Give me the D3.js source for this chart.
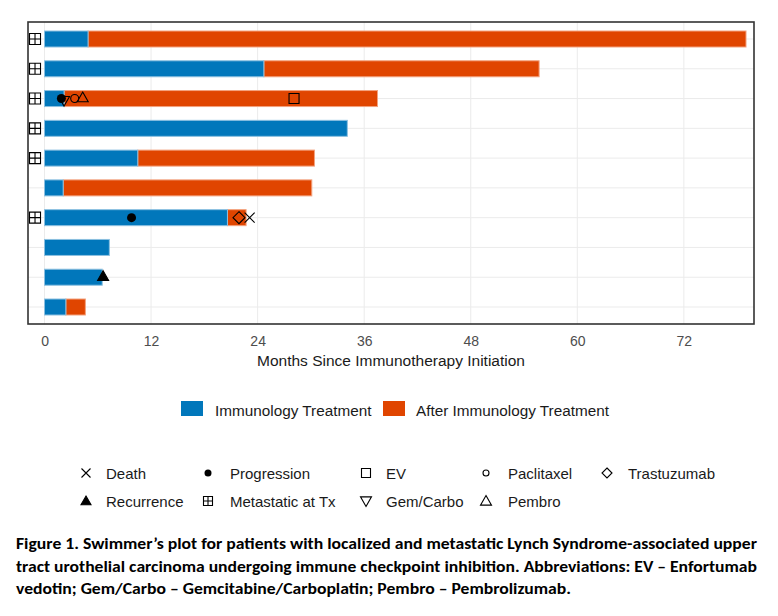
<!DOCTYPE html>
<html><head><meta charset="utf-8">
<script src="https://cdn.jsdelivr.net/npm/d3@7"></script>
<style>
html,body{margin:0;padding:0;background:#fff;}
svg{display:block;font-family:"Liberation Sans",Arial,sans-serif;}
</style></head>
<body>
<svg id="chart" width="778" height="616"></svg>
<script>
// ---- data ----
const patients = ["1","2","3","4","5","6","7","8","9","10"];
const immunoEnd = [4.9, 24.7, 2.2, 34.1, 10.5, 2.1, 20.6, 7.3, 6.5, 2.4];
const afterEnd  = [79.0, 55.7, 37.5, null, 30.4, 30.1, 22.7, null, null, 4.6];
const metastatic = ["1","2","3","4","5","7"];
const eventPatient = ["3","3","3","3","3","7","7","7","9"];
const eventTime    = [1.9, 2.2, 3.4, 4.3, 28.1, 9.8, 21.9, 23.1, 6.6];
const eventType    = ["Progression","Gem/Carbo","Paclitaxel","Pembro","EV","Progression","Trastuzumab","Death","Recurrence"];
const xTicks = [0, 12, 24, 36, 48, 60, 72];
const barLegend = ["Immunology Treatment", "After Immunology Treatment"];
const shapeLegendRow1 = ["Death","Progression","EV","Paclitaxel","Trastuzumab"];
const shapeLegendRow2 = ["Recurrence","Metastatic at Tx","Gem/Carbo","Pembro"];
const captionLines = [
  "Figure 1. Swimmer\u2019s plot for patients with localized and metastatic Lynch Syndrome-associated upper",
  "tract urothelial carcinoma undergoing immune checkpoint inhibition. Abbreviations: EV \u2013 Enfortumab",
  "vedotin; Gem/Carbo \u2013 Gemcitabine/Carboplatin; Pembro \u2013 Pembrolizumab."
];

// ---- layout ----
const BLUE = "#0177BB", ORANGE = "#E04500";
const panel = {l: 28, r: 754, t: 22, b: 324};
const svg = d3.select("#chart");

const x = d3.scaleLinear().domain([-1.86, 79.9]).range([panel.l, panel.r]);
const y = d3.scalePoint().domain(patients).range([39, 307]);
const barH = 16;

// grid
const g = svg.append("g");
g.selectAll("line.vg").data(xTicks).join("line")
  .attr("x1", d => x(d)).attr("x2", d => x(d))
  .attr("y1", panel.t).attr("y2", panel.b)
  .attr("stroke", "#ebebeb").attr("stroke-width", 1);
g.selectAll("line.hg").data(patients).join("line")
  .attr("x1", panel.l).attr("x2", panel.r)
  .attr("y1", d => y(d)).attr("y2", d => y(d))
  .attr("stroke", "#ebebeb").attr("stroke-width", 1);

// bars
const rows = patients.map((p, i) => ({p, a: immunoEnd[i], b: afterEnd[i]}));
g.selectAll("rect.after").data(rows.filter(d => d.b != null)).join("rect")
  .attr("x", d => x(d.a)).attr("width", d => x(d.b) - x(d.a))
  .attr("y", d => y(d.p) - barH/2).attr("height", barH)
  .attr("fill", ORANGE).attr("stroke", "#f3a27e").attr("stroke-width", 1);
g.selectAll("rect.imm").data(rows).join("rect")
  .attr("x", x(0)).attr("width", d => x(d.a) - x(0))
  .attr("y", d => y(d.p) - barH/2).attr("height", barH)
  .attr("fill", BLUE).attr("stroke", "#8cc0e0").attr("stroke-width", 1);

// shapes
function shapePath(type, s) {
  const h = s/2;
  switch (type) {
    case "Death": return `M${-h},${-h}L${h},${h}M${-h},${h}L${h},${-h}`;
    case "EV": return `M${-h},${-h}H${h}V${h}H${-h}Z`;
    case "Trastuzumab": return `M0,${-h}L${h},0L0,${h}L${-h},0Z`;
    case "Recurrence": return `M0,${-h}L${h},${h*0.75}L${-h},${h*0.75}Z`;
    case "Pembro": return `M0,${-h}L${h},${h*0.75}L${-h},${h*0.75}Z`;
    case "Gem/Carbo": return `M0,${h}L${h},${-h*0.75}L${-h},${-h*0.75}Z`;
    case "Metastatic at Tx": return `M${-h},${-h}H${h}V${h}H${-h}ZM0,${-h}V${h}M${-h},0H${h}`;
    default: return null;
  }
}
function drawShape(sel, type, cx, cy, s) {
  if (type === "Progression") {
    sel.append("circle").attr("cx", cx).attr("cy", cy).attr("r", s/2).attr("fill", "#000");
  } else if (type === "Paclitaxel") {
    sel.append("circle").attr("cx", cx).attr("cy", cy).attr("r", s/2)
      .attr("fill", "none").attr("stroke", "#000").attr("stroke-width", 1.1);
  } else {
    const filled = type === "Recurrence";
    sel.append("path").attr("d", shapePath(type, s))
      .attr("transform", `translate(${cx},${cy})`)
      .attr("fill", filled ? "#000" : "none")
      .attr("stroke", "#000").attr("stroke-width", 1.1);
  }
}
const markerSize = {"Death":10, "Progression":9, "EV":10, "Paclitaxel":8, "Trastuzumab":12,
  "Recurrence":11, "Metastatic at Tx":11, "Gem/Carbo":11, "Pembro":11};
const mg = svg.append("g");
metastatic.forEach(p => drawShape(mg, "Metastatic at Tx", x(-1.07), y(p), markerSize["Metastatic at Tx"]));
eventPatient.forEach((p, i) => {
  const t = eventType[i];
  const dy = t === "Gem/Carbo" ? 2 : (t === "Recurrence" || t === "Pembro" ? -1 : 0);
  drawShape(mg, t, x(eventTime[i]), y(p) + dy, markerSize[t]);
});

// panel border
svg.append("rect").attr("x", panel.l).attr("y", panel.t)
  .attr("width", panel.r - panel.l).attr("height", panel.b - panel.t)
  .attr("fill", "none").attr("stroke", "#333").attr("stroke-width", 1.6);

// x axis
const axis = d3.axisBottom(x).tickValues(xTicks).tickSize(0).tickPadding(0);
const ax = svg.append("g").attr("transform", `translate(0,${panel.b})`).call(axis);
ax.select(".domain").remove();
ax.selectAll("text").attr("font-size", 14).attr("fill", "#4d4d4d")
  .attr("font-family", "Liberation Sans, Arial, sans-serif")
  .attr("dy", null).attr("y", 22);
svg.append("text").attr("x", (panel.l + panel.r)/2).attr("y", 366)
  .attr("text-anchor", "middle").attr("font-size", 15.5).attr("fill", "#1a1a1a")
  .text("Months Since Immunotherapy Initiation");

// bar legend
const legKeysX = [181, 383], legTextX = [215, 416];
barLegend.forEach((lab, i) => {
  svg.append("rect").attr("x", legKeysX[i]).attr("y", 401).attr("width", 22).attr("height", 15)
    .attr("fill", i === 0 ? BLUE : ORANGE);
  svg.append("text").attr("x", legTextX[i]).attr("y", 416).attr("font-size", 15.3)
    .attr("fill", "#1a1a1a").text(lab);
});

// shape legend
const colSym = [86, 208, 366, 486, 607];
const colTxt = [106, 230, 386, 508, 628];
const legSize = {"Death":9, "Progression":7, "EV":9, "Paclitaxel":6, "Trastuzumab":10,
  "Recurrence":10, "Metastatic at Tx":9, "Gem/Carbo":11, "Pembro":11};
[[shapeLegendRow1, 473], [shapeLegendRow2, 501]].forEach(([items, cy]) => {
  items.forEach((lab, i) => {
    drawShape(svg, lab, colSym[i], cy, legSize[lab]);
    svg.append("text").attr("x", colTxt[i]).attr("y", cy + 5.5).attr("font-size", 15)
      .attr("fill", "#1a1a1a").text(lab);
  });
});

// caption
const capY = [549, 572, 594], capW = [741, 741, 555];
captionLines.forEach((line, i) => {
  svg.append("text").attr("x", 16).attr("y", capY[i])
    .attr("font-family", "Carlito, Calibri, Lato, sans-serif")
    .attr("font-weight", "bold").attr("font-size", 15.5).attr("fill", "#000")
    .attr("textLength", capW[i]).attr("lengthAdjust", "spacingAndGlyphs")
    .text(line);
});
</script>
</body></html>
